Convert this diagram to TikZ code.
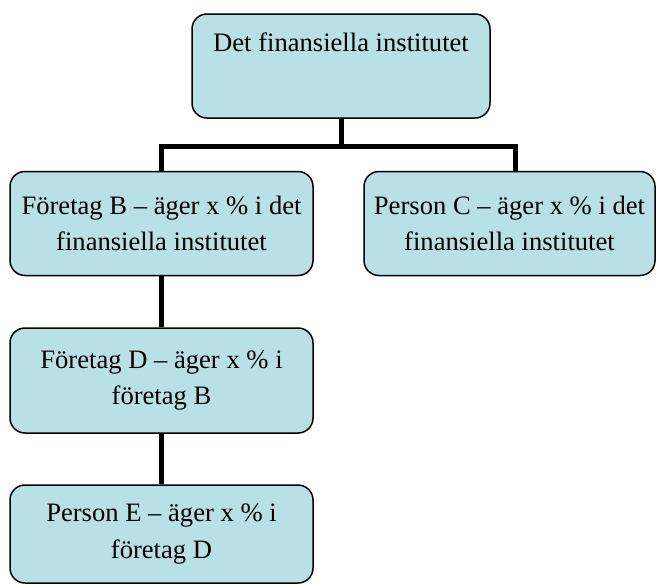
\documentclass[tikz,border=0pt]{standalone}
\usepackage{fontspec}
\setmainfont{Liberation Serif}
\definecolor{boxfill}{RGB}{185,224,228}
\begin{document}
\begin{tikzpicture}[x=1pt, y=-1pt]
  \useasboundingbox (0,0) rectangle (656,584);
  % Chart
  \begin{scope}[every node/.style={draw=black, line width=1.5pt, fill=boxfill, rounded corners=15pt, align=center, inner sep=0pt, font=\fontsize{26.6}{36.5}\selectfont},
      conn/.style={line width=5pt}]
    \node[minimum width=298, minimum height=104] (inst) at (341,66) {Det finansiella institutet\\\strut};

    \node[minimum width=303, minimum height=104] (foretagB) at (161.5,223.5) {Företag B – äger x \% i det\\finansiella institutet};
    \node[minimum width=291, minimum height=104] (personC) at (509.5,223.5) {Person C – äger x \% i det\\finansiella institutet};

    \node[minimum width=303, minimum height=105] (foretagD) at (161.5,380.5) {Företag D – äger x \% i\\företag B};

    \node[minimum width=303, minimum height=98] (personE) at (161.5,534) {Person E – äger x \% i\\företag D};

    \draw[conn] (inst.south) -- ++(0,28) -| (foretagB.north);
    \draw[conn] (inst.south) -- ++(0,28) -| ([xshift=5.5pt]personC.north);

    \draw[conn] (foretagB) edge (foretagD);
    \draw[conn] (foretagD) edge (personE);
  \end{scope}
\end{tikzpicture}
\end{document}
